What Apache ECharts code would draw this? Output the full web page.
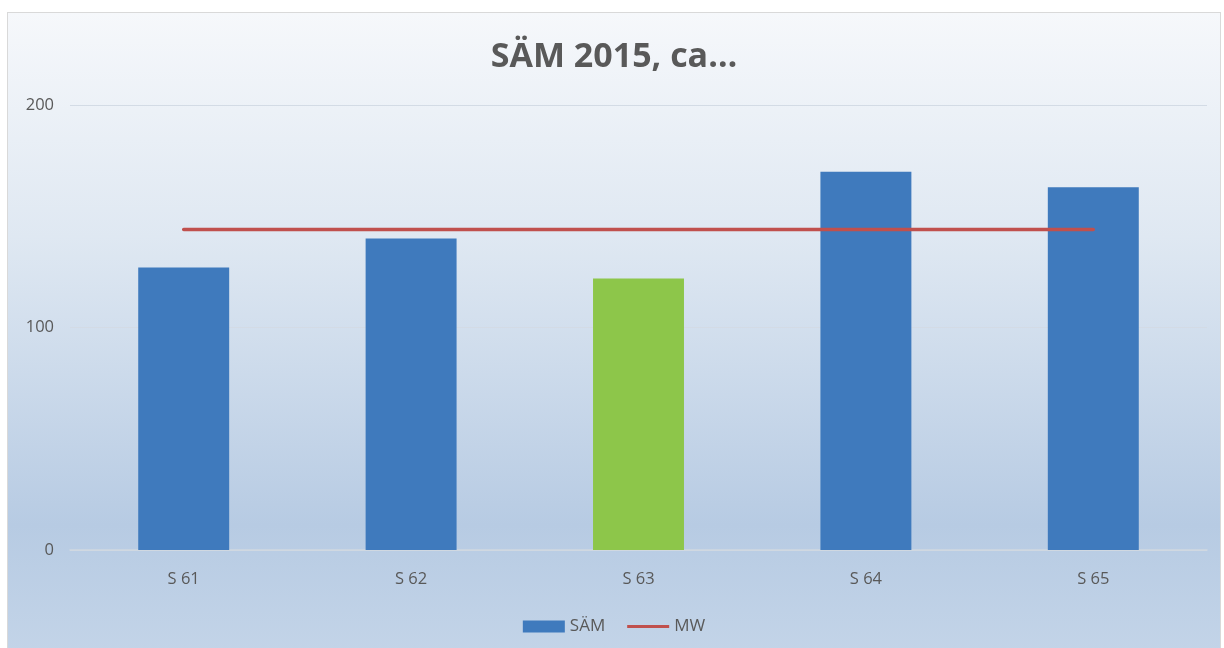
<!DOCTYPE html>
<html>
<head>
<meta charset="utf-8">
<script src="https://cdn.jsdelivr.net/npm/echarts@6/dist/echarts.min.js"></script>
<style>
  html, body { margin: 0; padding: 0; width: 1224px; height: 648px; overflow: hidden; background: #fff; }
  #main {
    position: absolute; left: 7px; top: 12px; width: 1212px; height: 640px;
    border: 1px solid #d9d9d9;
    background: linear-gradient(to bottom, #f6f8fb 0%, #dfe8f2 35%, #b7cbe3 80%, #c3d4e8 100%);
  }
</style>
</head>
<body>
<div id="main"></div>
<script>
// Daten
const categories = ['S 61', 'S 62', 'S 63', 'S 64', 'S 65'];
const saemValues = [127, 140, 122, 170, 163];
const mwValues = [144, 144, 144, 144, 144];
const yTicks = [0, 100, 200];

const barColor = '#3f7abd';
const highlightColor = '#8dc64a';

const chart = echarts.init(document.getElementById('main'));
chart.setOption({
  backgroundColor: 'transparent',
  textStyle: { fontFamily: 'Open Sans, Noto Sans, sans-serif' },
  title: {
    text: 'SÄM 2015, ca…',
    left: 'center',
    top: 22,
    textStyle: { fontSize: 34, fontWeight: 'bold', color: '#595959', fontFamily: 'Open Sans, sans-serif' }
  },
  legend: {
    bottom: 13,
    left: 'center',
    itemGap: 22,
    textStyle: { fontSize: 17, color: '#595959' },
    data: [
      { name: 'SÄM', icon: 'rect', itemStyle: { color: barColor } },
      { name: 'MW', icon: 'path://M0,0 L45,0 L45,3 L0,3 Z', itemStyle: { color: '#c0504d' } }
    ],
    itemWidth: 42,
    itemHeight: 12
  },
  grid: { left: 62, right: 13, top: 92, bottom: 103 },
  xAxis: {
    type: 'category',
    data: categories,
    axisLine: { lineStyle: { color: '#d0d7e0', width: 1.5 } },
    axisTick: { show: false },
    axisLabel: { fontSize: 16.5, color: '#595959', margin: 21 }
  },
  yAxis: {
    type: 'value',
    min: yTicks[0],
    max: yTicks[yTicks.length - 1],
    interval: 100,
    axisLine: { show: false },
    axisTick: { show: false },
    splitLine: { lineStyle: { color: '#d3dbe5', width: 1.2 } },
    axisLabel: { fontSize: 16.5, color: '#595959', margin: 16 }
  },
  series: [
    {
      name: 'SÄM',
      type: 'bar',
      barWidth: '40%',
      data: saemValues.map((v, i) => ({
        value: v,
        itemStyle: { color: categories[i] === 'S 63' ? highlightColor : barColor }
      })),
      itemStyle: { color: barColor }
    },
    {
      name: 'MW',
      type: 'line',
      data: mwValues,
      symbol: 'none',
      lineStyle: { color: '#c0504d', width: 3.5, cap: 'round' },
      itemStyle: { color: '#c0504d' }
    }
  ]
});
</script>
</body>
</html>
